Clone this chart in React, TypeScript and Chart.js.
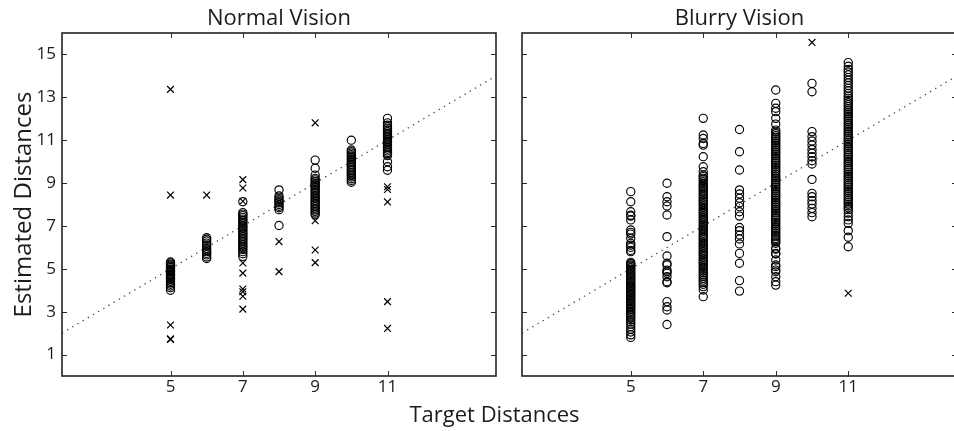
import React, { useEffect, useRef } from 'react';
import { Chart, registerables } from 'chart.js';

Chart.register(...registerables);

// ---------- data ----------
const TARGETS = [5, 6, 7, 8, 9, 10, 11];
const X_TICKS = [5, 7, 9, 11];
const Y_TICKS = [1, 3, 5, 7, 9, 11, 13, 15];
const X_RANGE = [2, 14];
const Y_RANGE = [0, 16];
const DIAGONAL = [2, 14];
const PANEL_TITLES = ['Normal Vision', 'Blurry Vision'];
const X_LABEL = 'Target Distances';
const Y_LABEL = 'Estimated Distances';

// Normal vision: circles (per target distance)
const NORMAL_CIRCLES = [
  [5.32, 5.28, 5.22, 5.18, 5.12, 5.06, 5.0, 4.95, 4.9, 4.86, 4.8, 4.75, 4.7, 4.66, 4.6, 4.55, 4.5, 4.42, 4.35, 4.28, 4.2, 4.12, 4.0],
  [6.45, 6.38, 6.3, 6.2, 6.12, 6.05, 5.95, 5.88, 5.8, 5.72, 5.65, 5.55, 5.48],
  [8.13, 7.62, 7.55, 7.48, 7.4, 7.32, 7.25, 7.18, 7.1, 7.02, 6.95, 6.88, 6.8, 6.72, 6.65, 6.58, 6.5, 6.42, 6.35, 6.28, 6.2, 6.12, 6.05, 5.98, 5.9, 5.8, 5.7, 5.58],
  [8.68, 8.4, 8.3, 8.22, 8.15, 8.08, 8.0, 7.92, 7.85, 7.76, 7.02],
  [10.07, 9.69, 9.37, 9.22, 9.15, 9.08, 9.0, 8.94, 8.88, 8.8, 8.72, 8.65, 8.58, 8.5, 8.42, 8.35, 8.28, 8.2, 8.12, 8.05, 7.98, 7.9, 7.82, 7.75, 7.68, 7.6, 7.52],
  [11.0, 10.54, 10.46, 10.4, 10.32, 10.25, 10.18, 10.1, 10.02, 9.95, 9.88, 9.8, 9.72, 9.65, 9.58, 9.5, 9.42, 9.35, 9.28, 9.2, 9.12, 9.04],
  [12.02, 11.81, 11.7, 11.62, 11.55, 11.48, 11.4, 11.32, 11.25, 11.18, 11.1, 11.02, 10.95, 10.88, 10.8, 10.72, 10.65, 10.58, 10.5, 10.42, 10.35, 10.28, 10.0, 9.76, 9.6],
];

// Normal vision: crosses (outliers)
const NORMAL_CROSSES = [
  [13.37, 8.44, 2.38, 1.73, 1.7],
  [8.44],
  [9.16, 8.77, 8.15, 5.27, 4.8, 4.06, 3.93, 3.72, 3.12],
  [6.27, 4.87],
  [11.81, 7.24, 5.88, 5.29],
  [],
  [8.83, 8.7, 8.12, 3.47, 2.22],
];

// Blurry vision: circles
const BLURRY_CIRCLES = [
  [8.6, 8.13, 7.66, 7.5, 7.46, 7.28, 6.81, 6.7, 6.62, 6.42, 6.19, 6.1, 6.0, 5.86, 5.8,
    5.3, 5.24, 5.18, 5.12, 5.05, 4.98, 4.92, 4.85, 4.78, 4.72, 4.65, 4.58, 4.52, 4.45, 4.38, 4.32, 4.25, 4.18, 4.12, 4.05,
    3.98, 3.92, 3.85, 3.78, 3.72, 3.65, 3.58, 3.52, 3.45, 3.38, 3.32, 3.25, 3.18, 3.1, 3.02, 2.95, 2.88, 2.8, 2.72, 2.62,
    2.52, 2.42, 2.3, 2.18, 2.05, 1.92, 1.8],
  [8.99, 8.36, 8.13, 7.93, 7.51, 6.5, 5.6, 5.26, 5.18, 4.94, 4.87, 4.79, 4.63, 4.4, 4.35, 3.47, 3.23, 3.08, 2.4],
  [12.02, 11.24, 11.08, 10.85, 10.77, 10.23, 9.76, 9.53, 9.37,
    9.3, 9.22, 9.15, 9.07, 8.98, 8.9, 8.83, 8.75, 8.66, 8.58, 8.5, 8.43, 8.35, 8.26, 8.18, 8.1, 8.03, 7.95, 7.86, 7.78,
    7.7, 7.63, 7.55, 7.46, 7.38, 7.3, 7.23, 7.15, 7.06, 6.98, 6.9, 6.83, 6.75, 6.66, 6.58, 6.5, 6.43, 6.35, 6.26, 6.18,
    6.1, 6.03, 5.95, 5.86, 5.78, 5.7, 5.63, 5.55, 5.46, 5.38, 5.3, 5.23, 5.15, 5.06, 4.98, 4.9, 4.82, 4.74, 4.65, 4.56,
    4.47, 4.38, 4.28, 4.17, 4.01, 3.7],
  [11.5, 10.46, 9.61, 8.68, 8.49, 8.29, 8.08, 7.9, 7.66, 7.46, 6.93, 6.78, 6.58, 6.39, 6.16, 5.72, 5.26, 4.45, 3.96],
  [13.34, 12.72, 12.49, 12.33, 12.02, 11.75,
    11.47, 11.38, 11.3, 11.21, 11.12, 11.04, 10.95, 10.87, 10.78, 10.7, 10.61, 10.52, 10.44, 10.35, 10.27, 10.18, 10.1,
    10.01, 9.92, 9.84, 9.75, 9.67, 9.58, 9.5, 9.41, 9.32, 9.24, 9.15, 9.07, 8.98, 8.9, 8.81, 8.72, 8.64, 8.55, 8.47, 8.38,
    8.3, 8.21, 8.12, 8.04, 7.95, 7.87, 7.78, 7.7, 7.61, 7.52, 7.44, 7.35, 7.27, 7.18, 7.1, 7.01, 6.92, 6.84, 6.75, 6.67,
    6.58, 6.5, 6.41, 6.34, 6.26, 6.19, 5.96, 5.91, 5.72, 5.69, 5.41, 5.18, 5.1, 4.94, 4.86, 4.63, 4.4, 4.24],
  [13.65, 13.26, 11.4, 11.16, 10.96, 10.77, 10.57, 10.39, 10.23, 10.04, 9.89, 9.17, 8.52, 8.36, 8.18, 8.02, 7.82, 7.62, 7.43],
  [14.62, 14.45, 14.3, 14.18, 14.05, 13.92, 13.8, 13.68, 13.55, 13.42, 13.3, 13.18, 13.05, 12.95, 12.85, 12.75, 12.66,
    12.57, 12.48, 12.4, 12.31, 12.22, 12.13, 12.05, 11.96, 11.87, 11.78, 11.7, 11.61, 11.52, 11.43, 11.35, 11.26, 11.17,
    11.08, 11.0, 10.91, 10.82, 10.73, 10.65, 10.56, 10.47, 10.38, 10.3, 10.21, 10.12, 10.03, 9.95, 9.86, 9.77, 9.68, 9.6,
    9.51, 9.42, 9.33, 9.25, 9.16, 9.07, 8.98, 8.9, 8.81, 8.72, 8.63, 8.55, 8.46, 8.37, 8.28, 8.2, 8.11, 8.02, 7.93, 7.85,
    7.76, 7.6, 7.43, 7.28, 7.12, 6.78, 6.47, 6.03],
];

// Blurry vision: crosses
const BLURRY_CROSSES = [[], [], [], [], [], [15.56], [3.86]];

// ---------- helpers ----------
const FONT = "'Open Sans', 'Noto Sans', sans-serif";
const INK = '#1c1c1c';

const toPoints = (cols: number[][]) =>
  cols.flatMap((vals, i) => vals.map((v) => ({ x: TARGETS[i], y: v })));

const framePlugin = {
  id: 'frameTicks',
  afterDatasetsDraw(chart: any) {
    const { ctx, chartArea } = chart;
    const { left, right, top, bottom } = chartArea;
    const xs = chart.scales.x;
    const ys = chart.scales.y;
    const tl = 5;
    ctx.save();
    ctx.strokeStyle = '#2a2a2a';
    ctx.lineWidth = 1;
    ctx.beginPath();
    X_TICKS.forEach((t) => {
      const px = Math.round(xs.getPixelForValue(t)) + 0.5;
      ctx.moveTo(px, bottom);
      ctx.lineTo(px, bottom - tl);
      ctx.moveTo(px, top);
      ctx.lineTo(px, top + tl);
    });
    Y_TICKS.forEach((t) => {
      const py = Math.round(ys.getPixelForValue(t)) + 0.5;
      ctx.moveTo(left, py);
      ctx.lineTo(left + tl, py);
      ctx.moveTo(right, py);
      ctx.lineTo(right - tl, py);
    });
    ctx.stroke();
    ctx.lineWidth = 1.6;
    ctx.strokeStyle = '#222';
    ctx.strokeRect(left, top, right - left, bottom - top);
    ctx.restore();
  },
};

function makeConfig(panel: number): any {
  const isLeft = panel === 0;
  const circles = toPoints(isLeft ? NORMAL_CIRCLES : BLURRY_CIRCLES);
  const crosses = toPoints(isLeft ? NORMAL_CROSSES : BLURRY_CROSSES);
  const diag = DIAGONAL.map((v) => ({ x: v, y: v }));
  return {
    type: 'scatter',
    data: {
      datasets: [
        {
          data: diag,
          showLine: true,
          borderColor: '#444',
          borderWidth: 1.3,
          borderDash: [1.3, 4.7],
          pointRadius: 0,
          order: 3,
        },
        {
          data: circles,
          pointStyle: 'circle',
          pointRadius: 4.1,
          pointBorderWidth: 1.15,
          pointBorderColor: '#000',
          pointBackgroundColor: 'rgba(0,0,0,0)',
          order: 2,
        },
        {
          data: crosses,
          pointStyle: 'crossRot',
          pointRadius: 4.8,
          pointBorderWidth: 1.2,
          pointBorderColor: '#000',
          pointBackgroundColor: 'rgba(0,0,0,0)',
          order: 1,
        },
      ],
    },
    options: {
      animation: false,
      responsive: false,
      events: [],
      layout: {
        padding: isLeft
          ? { left: 0, top: 0, right: 954 - 496, bottom: 0 }
          : { left: 522, top: 0, right: 970 - 957, bottom: 0 },
      },
      plugins: {
        legend: { display: false },
        tooltip: { enabled: false },
        title: {
          display: true,
          text: PANEL_TITLES[panel],
          fullSize: false,
          color: INK,
          font: { family: FONT, size: 22, weight: 'normal' },
          padding: { top: 6, bottom: 0.6 },
        },
      },
      scales: {
        x: {
          type: 'linear',
          min: X_RANGE[0],
          max: X_RANGE[1],
          afterBuildTicks: (s: any) => {
            s.ticks = X_TICKS.map((v) => ({ value: v }));
          },
          afterFit: (s: any) => {
            s.height = 55;
          },
          grid: { display: false, drawTicks: false },
          border: { display: false },
          ticks: { color: INK, padding: 1, font: { family: FONT, size: 17 }, maxRotation: 0, autoSkip: false },
        },
        y: {
          type: 'linear',
          display: isLeft,
          min: Y_RANGE[0],
          max: Y_RANGE[1],
          afterBuildTicks: (s: any) => {
            s.ticks = Y_TICKS.map((v) => ({ value: v }));
          },
          afterFit: (s: any) => {
            s.width = isLeft ? 62 : 0;
          },
          grid: { display: false, drawTicks: false },
          border: { display: false },
          ticks: { color: INK, padding: 6, font: { family: FONT, size: 17 }, autoSkip: false },
          title: {
            display: isLeft,
            text: Y_LABEL,
            color: INK,
            font: { family: FONT, size: 24 },
            padding: { top: 9.5, bottom: 0 },
          },
        },
      },
    },
    plugins: [framePlugin],
  };
}

function Panel({ panel, width }: { panel: number; width: number }) {
  const ref = useRef<HTMLCanvasElement | null>(null);
  useEffect(() => {
    if (!ref.current) return;
    const chart = new Chart(ref.current, makeConfig(panel));
    return () => chart.destroy();
  }, [panel]);
  return (
    <canvas
      ref={ref}
      width={width}
      height={431}
      style={{ position: 'absolute', left: 0, top: 0, width, height: 431 }}
    />
  );
}

export default function App() {
  return (
    <div
      style={{
        position: 'absolute',
        left: 0,
        top: 0,
        width: 954,
        height: 431,
        overflow: 'hidden',
        background: '#fff',
      }}
    >
      <Panel panel={0} width={954} />
      <Panel panel={1} width={970} />
      <div
        style={{
          position: 'absolute',
          left: 0,
          width: 989,
          top: 402,
          textAlign: 'center',
          fontFamily: FONT,
          fontSize: 22,
          lineHeight: '22px',
          color: INK,
          whiteSpace: 'nowrap',
        }}
      >
        {X_LABEL}
      </div>
    </div>
  );
}
